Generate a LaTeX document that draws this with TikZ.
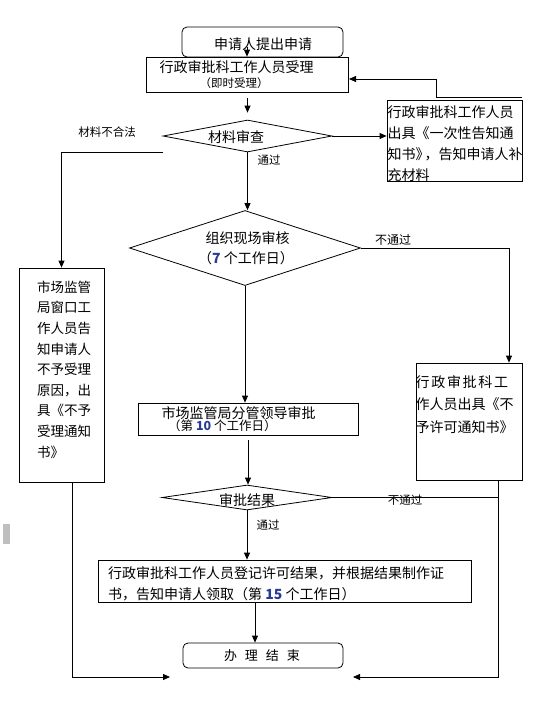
\documentclass[tikz,border=0pt]{standalone}
\usepackage{fontspec}
\setmainfont{Noto Sans CJK SC}
\usetikzlibrary{shapes.geometric,arrows.meta}
\definecolor{dnum}{RGB}{40,60,150}
\newcommand{\dgt}[1]{{\color{dnum}\bfseries #1}}
\begin{document}
\begin{tikzpicture}[x=1pt,y=-1pt,
  frame/.style={draw, line width=0.8pt, inner sep=0pt},
  rframe/.style={frame, rounded corners=5pt},
  dia/.style={draw, line width=0.8pt, diamond, inner sep=0pt},
  txt/.style={inner sep=0pt, font=\fontsize{14pt}{21pt}\selectfont},
  small/.style={inner sep=0pt, font=\fontsize{11.5pt}{14pt}\selectfont},
  conn/.style={line width=0.8pt},
  arr/.style={conn, -{Triangle[length=7pt,width=6pt]}}]
\useasboundingbox (0,0) rectangle (558,726);
\fill[white] (0,0) rectangle (558,726);
\fill[gray!50] (2.7,524) rectangle (10,544);

% nodes
\node[rframe, minimum width=161pt, minimum height=30pt] (start) at (262.5,42) {};
\node[txt] (startT) at (263,44) {申请人提出申请};
\node[frame, fill=white, minimum width=202pt, minimum height=35pt] (acc) at (247.5,74.5) {};
\node[txt] (accT1) at (236.5,67) {行政审批科工作人员受理};
\node[small] (accT2) at (234,83) {（即时受理）};

\node[dia, minimum width=169pt, minimum height=32pt] (d1) at (247.5,136) {};
\node[txt] (d1T) at (236,137) {材料审查};
\node[small] (no1) at (107,132) {材料不合法};
\node[small] (yes1) at (269,160) {通过};

\node[frame, minimum width=135pt, minimum height=81pt] (rb1) at (454.5,140.5) {};
\node[txt, align=left, anchor=west] (rb1T) at (387.5,143.3) {行政审批科工作人员\\出具《一次性告知通\\知书》\kern-5pt，告知申请人补\\充材料};

\node[dia, minimum width=231pt, minimum height=75pt] (d2) at (245,248) {};
\node[txt] (d2T1) at (247.5,238) {组织现场审核};
\node[txt] (d2T2) at (246,258) {（\dgt{7} 个工作日）};
\node[small, font=\fontsize{12pt}{14pt}\selectfont] (no2) at (393,240) {不通过};

\node[frame, minimum width=85pt, minimum height=214pt] (lbox) at (61.5,375) {};
\node[inner sep=0pt, align=left, font=\fontsize{13.5pt}{20.6pt}\selectfont] (lboxT) at (64,369.5) {市场监管\\局窗口工\\作人员告\\知申请人\\不予受理\\原因，出\\具《不予\\受理通知\\书》};

\node[frame, minimum width=106pt, minimum height=117pt] (rb2) at (469,421.5) {};
\node[txt, align=left, anchor=north west, font=\fontsize{14pt}{22.5pt}\selectfont] (rb2T) at (415.5,375) {{\addfontfeature{LetterSpace=12}行政审批科工}\\作人员出具《不\\予许可通知书》};

\node[frame, minimum width=220pt, minimum height=32pt] (mid) at (248,419) {};
\node[txt] (midT1) at (238.5,413) {市场监管局分管领导审批};
\node[small, anchor=west, font=\fontsize{12.5pt}{14pt}\selectfont] (midT2) at (168,426) {（第 \dgt{10} 个工作日）};

\node[dia, minimum width=170pt, minimum height=25pt] (d3) at (247,497.5) {};
\node[txt] (d3T) at (247,500) {审批结果};
\node[small] (no3) at (405,500) {不通过};
\node[small] (yes3) at (268,525) {通过};

\node[frame, minimum width=373pt, minimum height=42pt] (bbox) at (284.5,581) {};
\node[txt, align=left, anchor=west] (bboxT) at (108,583.5) {行政审批科工作人员登记许可结果，并根据结果制作证\\书，告知申请人领取（第 \dgt{15} 个工作日）};

\node[rframe, minimum width=160pt, minimum height=25pt] (endb) at (263,655.5) {};
\node[inner sep=0pt, font=\fontsize{13pt}{15pt}\selectfont] (endT) at (262,656) {办\hspace{8pt}理\hspace{8pt}结\hspace{8pt}束};

% coordinates
\coordinate (a0) at (247,47);
\coordinate (r1a) at (522,97);
\coordinate (r1b) at (436,97);
\coordinate (r1c) at (349,79);
\coordinate (c2) at (509,248);
\coordinate (lbx) at (72,482);
\coordinate (endL) at (170,677);
\coordinate (rb2x) at (498,480);
\coordinate (endR) at (353,677);
\coordinate (bx) at (255,602);

% connectors
\draw[arr] (a0) -- (a0 |- acc.north);
\draw[arr, shorten <=6pt, shorten >=7pt] (acc.south) -- (d1.north);
\draw[arr] (d1.west |- d1.south) -| (lbox.north);
\draw[arr] (d1.east) -- (d1.east -| rb1.west);
\draw[arr] (r1a) -- (r1b) |- (r1c);
\draw[arr] (d1.south) -- (d1.south |- d2.north);
\draw[arr] (d2.east) -- (c2) -- (c2 |- rb2.north);
\draw[arr] (d2.south) -- (d2.south |- mid.north);
\draw[arr, shorten <=5pt] (mid.south) -- (mid.south |- d3.north);
\draw[conn] (d3.east) -- (d3.east -| rb2x);
\draw[arr] (d3.south) -- (d3.south |- bbox.north);
\draw[arr] (bx) -- (bx |- endb.north);
\draw[arr] (lbx) |- (endL);
\draw[arr] (rb2x) |- (endR);
\end{tikzpicture}
\end{document}
